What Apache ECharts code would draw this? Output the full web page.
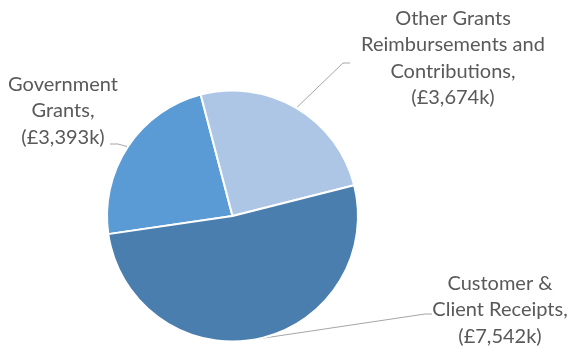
<!DOCTYPE html>
<html>
<head>
<meta charset="utf-8">
<script src="https://cdn.jsdelivr.net/npm/echarts@6/dist/echarts.min.js"></script>
<style>
  html, body { margin: 0; padding: 0; background: #fff; }
  #chart { width: 570px; height: 349px; }
</style>
</head>
<body>
<div id="chart"></div>
<script>
// Income sources, thousands of pounds
const categories = [
  'Government\nGrants',
  'Other Grants\nReimbursements and\nContributions',
  'Customer &\nClient Receipts'
];
const values = [3393, 3674, 7542];
const colors = ['#5b9bd5', '#adc6e6', '#4a7eae'];

// Where each label block sits, and where its leader line bends and ends
const labelCentres = [[63, 111], [453, 58], [500, 310]];
const lineBends = [[118, 144], [343, 63], [425, 314]];
const lineEnds = [[110, 144], [350, 63], [432, 314]];

const fmt = n => n.toLocaleString('en-GB');

const chart = echarts.init(document.getElementById('chart'), null, { renderer: 'canvas' });

chart.setOption({
  animation: false,
  backgroundColor: '#ffffff',
  series: [{
    type: 'pie',
    center: [232.5, 216],
    radius: [0, 125.5],
    startAngle: 188.3,
    clockwise: true,
    avoidLabelOverlap: false,
    itemStyle: { borderColor: '#ffffff', borderWidth: 2 },
    label: {
      show: true,
      position: 'outside',
      color: '#595959',
      fontFamily: 'Lato',
      fontSize: 20,
      lineHeight: 26.5,
      align: 'center',
      formatter: p => p.name + ',\n(£' + fmt(p.value) + 'k)'
    },
    labelLine: {
      show: true,
      length: 10,
      length2: 10,
      lineStyle: { color: '#a6a6a6', width: 1 }
    },
    labelLayout: params => {
      const i = params.dataIndex;
      const start = params.labelLinePoints ? params.labelLinePoints[0] : lineBends[i];
      return {
        x: labelCentres[i][0],
        y: labelCentres[i][1],
        align: 'center',
        verticalAlign: 'middle',
        labelLinePoints: [start, lineBends[i], lineEnds[i]]
      };
    },
    data: categories.map((name, i) => ({
      name: name,
      value: values[i],
      itemStyle: { color: colors[i] }
    }))
  }]
});
</script>
</body>
</html>
